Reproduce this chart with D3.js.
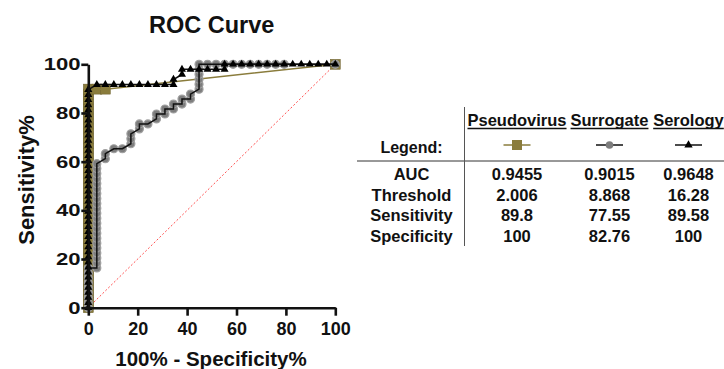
<!DOCTYPE html>
<html>
<head>
<meta charset="utf-8">
<script src="https://cdn.jsdelivr.net/npm/d3@7"></script>
<style>
  body { margin: 0; background: #fff; }
  text { font-family: "Liberation Sans", Arial, sans-serif; font-weight: bold; fill: #111; }
</style>
</head>
<body>
<div id="chart"></div>
<script>
// ROC data (x = 100% - Specificity%, y = Sensitivity%)
const pseudovirusX = [0,0,0,0,0,0,0,0,0,0,0,0,0,0,0,0,0,0,0,0,0,0,0,0,0,0,0,0,0,0,0,0,0,0,0,0,0,0,0,0,0,0,0,0,0, 3.45, 6.9, 100];
const pseudovirusY = [0,2.04,4.08,6.12,8.16,10.2,12.24,14.29,16.33,18.37,20.41,22.45,24.49,26.53,28.57,30.61,32.65,34.69,36.73,38.78,40.82,42.86,44.9,46.94,48.98,51.02,53.06,55.1,57.14,59.18,61.22,63.27,65.31,67.35,69.39,71.43,73.47,75.51,77.55,79.59,81.63,83.67,85.71,87.76,89.8, 89.8, 89.8, 100];

const surrogateX = [0,0,0,0,0,0,0,0,0,
  3.45,3.45,3.45,3.45,3.45,3.45,3.45,3.45,3.45,3.45,3.45,3.45,3.45,3.45,3.45,3.45,3.45,3.45,3.45,3.45,3.45,3.45,
  6.9,6.9,10.34,13.79,17.24,17.24,17.24,20.69,20.69,24.14,27.59,27.59,31.03,31.03,34.48,34.48,37.93,37.93,41.38,41.38,
  44.83,44.83,44.83,44.83,44.83,44.83,48.28,51.72,55.17,58.62,62.07,65.52,68.97,72.41,75.86,79.31,100];
const surrogateY = [0,2.04,4.08,6.12,8.16,10.2,12.24,14.29,16.33,
  16.33,18.37,20.41,22.45,24.49,26.53,28.57,30.61,32.65,34.69,36.73,38.78,40.82,42.86,44.9,46.94,48.98,51.02,53.06,55.1,57.14,59.18,
  61.22,63.27,65.31,65.31,67.35,69.39,71.43,73.47,75.51,75.51,77.55,79.59,79.59,81.63,81.63,83.67,83.67,85.71,85.71,87.76,
  89.8,91.84,93.88,95.92,97.96,100,100,100,100,100,100,100,100,100,100,100,100];

const serologyX = [0,0,0,0,0,0,0,0,0,0,0,0,0,0,0,0,0,0,0,0,0,0,0,0,0,0,0,0,0,0,0,0,0,0,0,0,0,0,0,0,0,0,0,0,
  3.45,6.9,10.34,13.79,17.24,20.69,24.14,27.59,31.03,34.48,34.48,37.93,37.93,41.38,44.83,48.28,51.72,55.17,
  55.17,58.62,62.07,65.52,68.97,72.41,75.86,79.31,82.76,86.21,89.66,93.1,96.55,100];
const serologyY = [0,2.08,4.17,6.25,8.33,10.42,12.5,14.58,16.67,18.75,20.83,22.92,25,27.08,29.17,31.25,33.33,35.42,37.5,39.58,41.67,43.75,45.83,47.92,50,52.08,54.17,56.25,58.33,60.42,62.5,64.58,66.67,68.75,70.83,72.92,75,77.08,79.17,81.25,83.33,85.42,87.5,89.58,
  91.67,91.67,91.67,91.67,91.67,91.67,91.67,91.67,91.67,91.67,93.75,95.83,97.92,97.92,97.92,97.92,97.92,97.92,
  100,100,100,100,100,100,100,100,100,100,100,100,100,100];

const axisTicks = [0, 20, 40, 60, 80, 100];

// table
const seriesNames = ["Pseudovirus", "Surrogate", "Serology"];
const rowLabels = ["AUC", "Threshold", "Sensitivity", "Specificity"];
const aucValues = ["0.9455", "0.9015", "0.9648"];
const thresholdValues = ["2.006", "8.868", "16.28"];
const sensitivityValues = ["89.8", "77.55", "89.58"];
const specificityValues = ["100", "82.76", "100"];

const W = 724, H = 369;
const olive = "#8a7c3c";

const svg = d3.select('#chart').append('svg')
    .attr('width', W)
    .attr('height', H);

const x = d3.scaleLinear().domain([0, 100]).range([88.3, 335.3]);
const y = d3.scaleLinear().domain([0, 100]).range([307.7, 64.3]);

// title
svg.append('text')
    .attr('x', 211.7).attr('y', 33)
    .attr('text-anchor', 'middle')
    .style('font-size', '23.5px')
    .text('ROC Curve');

// chance line
svg.append('line')
    .attr('x1', x(0)).attr('y1', y(0))
    .attr('x2', x(100)).attr('y2', y(100))
    .attr('stroke', '#ff5050')
    .attr('stroke-width', 1)
    .attr('stroke-dasharray', '2,2');

const zip = (xs, ys) => xs.map((v, i) => [v, ys[i]]);
const line = d3.line().x(d => x(d[0])).y(d => y(d[1]));

// pseudovirus
const pv = zip(pseudovirusX, pseudovirusY);
svg.selectAll('.pv').data(pv).enter().append('rect')
    .attr('class', 'pv')
    .attr('x', d => x(d[0]) - 5).attr('y', d => y(d[1]) - 5)
    .attr('width', 10).attr('height', 10)
    .attr('fill', olive)
    .attr('stroke', '#6e6230').attr('stroke-width', 0.5);
svg.append('path').datum(pv)
    .attr('d', line)
    .attr('fill', 'none').attr('stroke', olive).attr('stroke-width', 1.5);

// surrogate
const sg = zip(surrogateX, surrogateY);
svg.selectAll('.sg').data(sg).enter().append('circle')
    .attr('class', 'sg')
    .attr('cx', d => x(d[0])).attr('cy', d => y(d[1]))
    .attr('r', 4)
    .attr('fill', '#7d7d7d')
    .attr('stroke', '#a0a0a0').attr('stroke-width', 1.2);
svg.append('path').datum(sg)
    .attr('d', line)
    .attr('fill', 'none').attr('stroke', '#111').attr('stroke-width', 1.5);

// serology
const sr = zip(serologyX, serologyY);
svg.append('path').datum(sr)
    .attr('d', line)
    .attr('fill', 'none').attr('stroke', '#111').attr('stroke-width', 1.5);
const tri = d3.symbol().type(d3.symbolTriangle).size(28);
svg.selectAll('.sr').data(sr).enter().append('path')
    .attr('class', 'sr')
    .attr('transform', d => `translate(${x(d[0])},${y(d[1])})`)
    .attr('d', tri)
    .attr('fill', '#000');

// axes
const gx = svg.append('g')
    .attr('transform', `translate(0,${y(0)})`)
    .call(d3.axisBottom(x).tickValues(axisTicks).tickSize(8).tickSizeOuter(0).tickPadding(7));
const gy = svg.append('g')
    .attr('transform', `translate(${x(0)},0)`)
    .call(d3.axisLeft(y).tickValues(axisTicks).tickSize(7).tickSizeOuter(0).tickPadding(2));

[gx, gy].forEach(g => {
    g.select('.domain').attr('stroke', '#111').attr('stroke-width', 2.6);
    g.selectAll('.tick line').attr('stroke', '#111').attr('stroke-width', 2.6);
    g.selectAll('.tick text').attr('fill', '#111')
        .style('font-family', '"Liberation Sans", Arial, sans-serif')
        .style('font-weight', 'bold');
});
gx.selectAll('.tick text').style('font-size', '18px');
gy.selectAll('.tick text').style('font-size', '17px')
    .attr('x', -6)
    .attr('transform', 'scale(1.3,1)');

// axis titles
svg.append('text')
    .attr('x', 211).attr('y', 366)
    .attr('text-anchor', 'middle')
    .style('font-size', '20.5px')
    .text('100% - Specificity%');
svg.append('text')
    .attr('transform', 'translate(34,180) rotate(-90)')
    .attr('text-anchor', 'middle')
    .style('font-size', '22px')
    .text('Sensitivity%');

// table
const col = d3.scaleOrdinal().domain(seriesNames).range([517, 609.5, 688.5]);
const row = d3.scalePoint().domain(rowLabels).range([180, 241.5]);
const labelX = 411.5;

svg.append('line')
    .attr('x1', 357).attr('x2', W)
    .attr('y1', 161).attr('y2', 161)
    .attr('stroke', '#333').attr('stroke-width', 1);
svg.append('line')
    .attr('x1', 464.5).attr('x2', 464.5)
    .attr('y1', 107).attr('y2', 246)
    .attr('stroke', '#555').attr('stroke-width', 1);

seriesNames.forEach(name => {
    const t = svg.append('text')
        .attr('x', col(name)).attr('y', 126)
        .attr('text-anchor', 'middle')
        .style('font-size', '16.5px')
        .text(name);
    const w = t.node().getComputedTextLength();
    svg.append('line')
        .attr('x1', col(name) - w / 2).attr('x2', col(name) + w / 2)
        .attr('y1', 128.5).attr('y2', 128.5)
        .attr('stroke', '#111').attr('stroke-width', 1.6);
});

svg.append('text')
    .attr('x', labelX).attr('y', 153)
    .attr('text-anchor', 'middle')
    .style('font-size', '16px')
    .text('Legend:');

// legend symbols
const legY = 145;
seriesNames.forEach(name => {
    const cx = col(name);
    const stroke = name === 'Pseudovirus' ? olive : '#111';
    svg.append('line')
        .attr('x1', cx - 13.5).attr('x2', cx + 13.5)
        .attr('y1', legY).attr('y2', legY)
        .attr('stroke', stroke).attr('stroke-width', 1.5);
});
svg.append('rect')
    .attr('x', col('Pseudovirus') - 5).attr('y', legY - 5)
    .attr('width', 10).attr('height', 10)
    .attr('fill', olive);
svg.append('circle')
    .attr('cx', col('Surrogate')).attr('cy', legY)
    .attr('r', 3.8).attr('fill', '#7d7d7d');
svg.append('path')
    .attr('transform', `translate(${col('Serology')},${legY})`)
    .attr('d', d3.symbol().type(d3.symbolTriangle).size(30))
    .attr('fill', '#000');

const tableRows = [aucValues, thresholdValues, sensitivityValues, specificityValues];
rowLabels.forEach((lab, i) => {
    svg.append('text')
        .attr('x', labelX).attr('y', row(lab))
        .attr('text-anchor', 'middle')
        .style('font-size', '16.5px')
        .text(lab);
    seriesNames.forEach((name, j) => {
        svg.append('text')
            .attr('x', col(name)).attr('y', row(lab))
            .attr('text-anchor', 'middle')
            .style('font-size', '16.5px')
            .text(tableRows[i][j]);
    });
});
</script>
</body>
</html>
